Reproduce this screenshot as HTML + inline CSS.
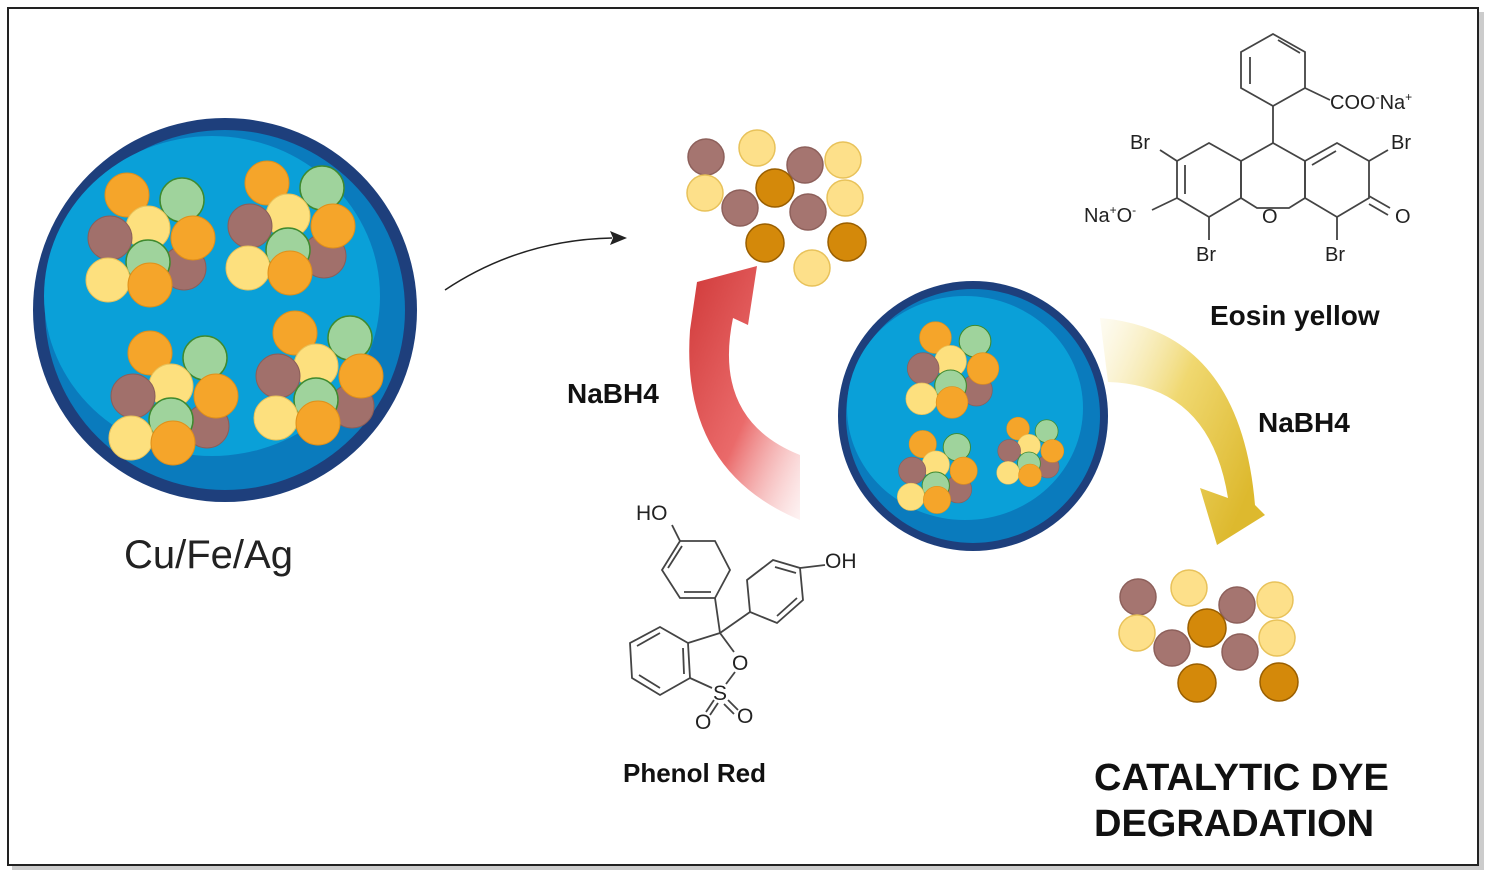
<!DOCTYPE html>
<html><head><meta charset="utf-8"><style>
html,body{margin:0;padding:0;background:#fff;width:1500px;height:887px;overflow:hidden}
svg{display:block}
text{font-family:"Liberation Sans",sans-serif}
</style></head><body>
<svg width="1500" height="887" viewBox="0 0 1500 887" xmlns="http://www.w3.org/2000/svg">
<defs>
<g id="cl">
 <circle cx="-23" cy="-45" r="22" fill="#f5a52a" stroke="#e0901a"/>
 <circle cx="32" cy="-40" r="22" fill="#9fd39c" stroke="#3f8a2f" stroke-width="1.5"/>
 <circle cx="-2" cy="-12" r="22" fill="#fde07e" stroke="#e8c25a"/>
 <circle cx="34" cy="28" r="22" fill="#a1706b" stroke="#8b5e59"/>
 <circle cx="-40" cy="-2" r="22" fill="#a1706b" stroke="#8b5e59"/>
 <circle cx="-2" cy="22" r="22" fill="#9fd39c" stroke="#3f8a2f" stroke-width="1.5"/>
 <circle cx="43" cy="-2" r="22" fill="#f5a52a" stroke="#e0901a"/>
 <circle cx="-42" cy="40" r="22" fill="#fde07e" stroke="#e8c25a"/>
 <circle cx="0" cy="45" r="22" fill="#f5a52a" stroke="#e0901a"/>
</g>
<g id="sc">
 <g stroke-width="1.5">
 <circle cx="706" cy="157" r="18" fill="#a57570" stroke="#8d605b"/>
 <circle cx="757" cy="148" r="18" fill="#fde08a" stroke="#e8c25a"/>
 <circle cx="805" cy="165" r="18" fill="#a57570" stroke="#8d605b"/>
 <circle cx="843" cy="160" r="18" fill="#fde08a" stroke="#e8c25a"/>
 <circle cx="705" cy="193" r="18" fill="#fde08a" stroke="#e8c25a"/>
 <circle cx="740" cy="208" r="18" fill="#a57570" stroke="#8d605b"/>
 <circle cx="775" cy="188" r="19" fill="#d4890a" stroke="#9a5f00"/>
 <circle cx="808" cy="212" r="18" fill="#a57570" stroke="#8d605b"/>
 <circle cx="845" cy="198" r="18" fill="#fde08a" stroke="#e8c25a"/>
 <circle cx="765" cy="243" r="19" fill="#d4890a" stroke="#9a5f00"/>
 <circle cx="847" cy="242" r="19" fill="#d4890a" stroke="#9a5f00"/>
 </g>
</g>
<linearGradient id="rg" x1="0" y1="0" x2="1" y2="1"><stop offset="0" stop-color="#d03a3a"/><stop offset="0.55" stop-color="#ea6a6a"/><stop offset="1" stop-color="#f7c0c0" stop-opacity="0.2"/></linearGradient>
<linearGradient id="yg" x1="0" y1="0" x2="1" y2="0.6"><stop offset="0" stop-color="#f8eec0" stop-opacity="0.2"/><stop offset="0.5" stop-color="#f0d870"/><stop offset="1" stop-color="#ddb92e"/></linearGradient>
</defs>
<rect x="12" y="12" width="1472" height="858" fill="#999" opacity="0.5"/>
<rect x="8" y="8" width="1470" height="857" fill="#fff" stroke="#222" stroke-width="2"/>

<circle cx="225" cy="310" r="192" fill="#1e3f7c"/>
<circle cx="225" cy="310" r="180" fill="#0a7bbd"/>
<ellipse cx="212" cy="296" rx="168" ry="160" fill="#0aa0d8"/>
<use href="#cl" transform="translate(150,240)"/>
<use href="#cl" transform="translate(290,228)"/>
<use href="#cl" transform="translate(173,398)"/>
<use href="#cl" transform="translate(318,378)"/>
<text x="124" y="568" font-size="40" fill="#222">Cu/Fe/Ag</text>

<path d="M445,290 Q520,240 612,238" fill="none" stroke="#222" stroke-width="1.5"/>
<path d="M627,238 L610,231 L613,238 L610,245 Z" fill="#222"/>

<use href="#sc"/>
<circle cx="812" cy="268" r="18" fill="#fde08a" stroke="#e8c25a" stroke-width="1.5"/>
<use href="#sc" transform="translate(432,440)"/>

<path d="M800,520 Q680,470 690,330 L697,282 L757,266 L748,325 L733,318 Q712,420 800,455 Z" fill="url(#rg)"/>
<text x="567" y="403" font-size="28" font-weight="bold" fill="#111">NaBH4</text>

<circle cx="973" cy="416" r="135" fill="#1e3f7c"/>
<circle cx="973" cy="416" r="127" fill="#0a7bbd"/>
<ellipse cx="965" cy="408" rx="118" ry="112" fill="#0aa0d8"/>
<use href="#cl" transform="translate(952,370) scale(0.72)"/>
<use href="#cl" transform="translate(937,472) scale(0.62)"/>
<use href="#cl" transform="translate(1030,452) scale(0.52)"/>

<path d="M1100,318 Q1240,330 1255,505 L1265,515 L1217,545 L1200,488 L1228,498 Q1210,385 1108,382 Z" fill="url(#yg)"/>
<text x="1258" y="432" font-size="28" font-weight="bold" fill="#111">NaBH4</text>
<text x="1210" y="325" font-size="28" font-weight="bold" fill="#111">Eosin yellow</text>

<g fill="none" stroke="#444" stroke-width="1.8">
 <polygon points="1241,161 1273,143 1305,161 1305,198 1289,208 1257,208 1241,198"/>
 <polygon points="1177,161 1209,143 1241,161 1241,198 1209,217 1177,198"/>
 <polygon points="1305,161 1337,143 1369,161 1369,198 1337,217 1305,198"/>
 <polygon points="1241,52 1273,34 1305,52 1305,88 1273,106 1241,88"/>
 <line x1="1273" y1="106" x2="1273" y2="143"/>
 <line x1="1305" y1="88" x2="1330" y2="100"/>
 <line x1="1177" y1="161" x2="1160" y2="150"/>
 <line x1="1369" y1="161" x2="1388" y2="150"/>
 <line x1="1177" y1="198" x2="1152" y2="210"/>
 <line x1="1209" y1="217" x2="1209" y2="240"/>
 <line x1="1337" y1="217" x2="1337" y2="240"/>
 <line x1="1369" y1="196" x2="1390" y2="208"/><line x1="1369" y1="204" x2="1388" y2="215"/>
 <line x1="1250" y1="57" x2="1250" y2="84"/><line x1="1278" y1="40" x2="1300" y2="53"/>
 <line x1="1185" y1="165" x2="1185" y2="194"/><line x1="1312" y1="165" x2="1336" y2="151"/>
</g>
<g font-size="20" fill="#222">
 <text x="1330" y="109">COO<tspan font-size="12" dy="-8">-</tspan><tspan dy="8">Na</tspan><tspan font-size="12" dy="-8">+</tspan></text>
 <text x="1130" y="149">Br</text><text x="1391" y="149">Br</text>
 <text x="1084" y="222">Na<tspan font-size="12" dy="-8">+</tspan><tspan dy="8">O</tspan><tspan font-size="12" dy="-8">-</tspan></text>
 <text x="1262" y="223">O</text><text x="1395" y="223">O</text>
 <text x="1196" y="261">Br</text><text x="1325" y="261">Br</text>
</g>

<g fill="none" stroke="#444" stroke-width="1.8">
 <polygon points="680,541 715,541 730,570 715,598 680,598 662,570"/>
 <line x1="668" y1="568" x2="682" y2="546"/><line x1="711" y1="592" x2="684" y2="592"/>
 <line x1="680" y1="541" x2="672" y2="525"/>
 <line x1="715" y1="598" x2="720" y2="633"/>
 <polygon points="747,580 773,560 800,568 803,600 777,623 750,612"/>
 <line x1="775" y1="567" x2="796" y2="573"/><line x1="797" y1="598" x2="777" y2="616"/>
 <line x1="800" y1="568" x2="825" y2="565"/>
 <line x1="720" y1="633" x2="750" y2="612"/>
 <polygon points="660,627 688,643 690,678 660,695 632,678 630,643"/>
 <line x1="637" y1="646" x2="660" y2="633"/><line x1="683" y1="648" x2="684" y2="674"/><line x1="639" y1="675" x2="660" y2="688"/>
 <line x1="688" y1="643" x2="720" y2="633"/><line x1="720" y1="633" x2="734" y2="652"/>
 <line x1="735" y1="672" x2="726" y2="684"/><line x1="690" y1="678" x2="712" y2="688"/>
 <line x1="714" y1="700" x2="706" y2="712"/><line x1="718" y1="703" x2="710" y2="715"/>
 <line x1="728" y1="700" x2="738" y2="710"/><line x1="724" y1="704" x2="734" y2="714"/>
</g>
<g font-size="21" fill="#222">
 <text x="636" y="520">HO</text><text x="825" y="568">OH</text>
 <text x="732" y="670">O</text><text x="713" y="700">S</text>
 <text x="695" y="729">O</text><text x="737" y="723">O</text>
</g>
<text x="623" y="782" font-size="26" font-weight="bold" fill="#111">Phenol Red</text>

<text x="1094" y="790" font-size="38" font-weight="bold" fill="#111">CATALYTIC DYE</text>
<text x="1094" y="836" font-size="38" font-weight="bold" fill="#111">DEGRADATION</text>
</svg>
</body></html>
